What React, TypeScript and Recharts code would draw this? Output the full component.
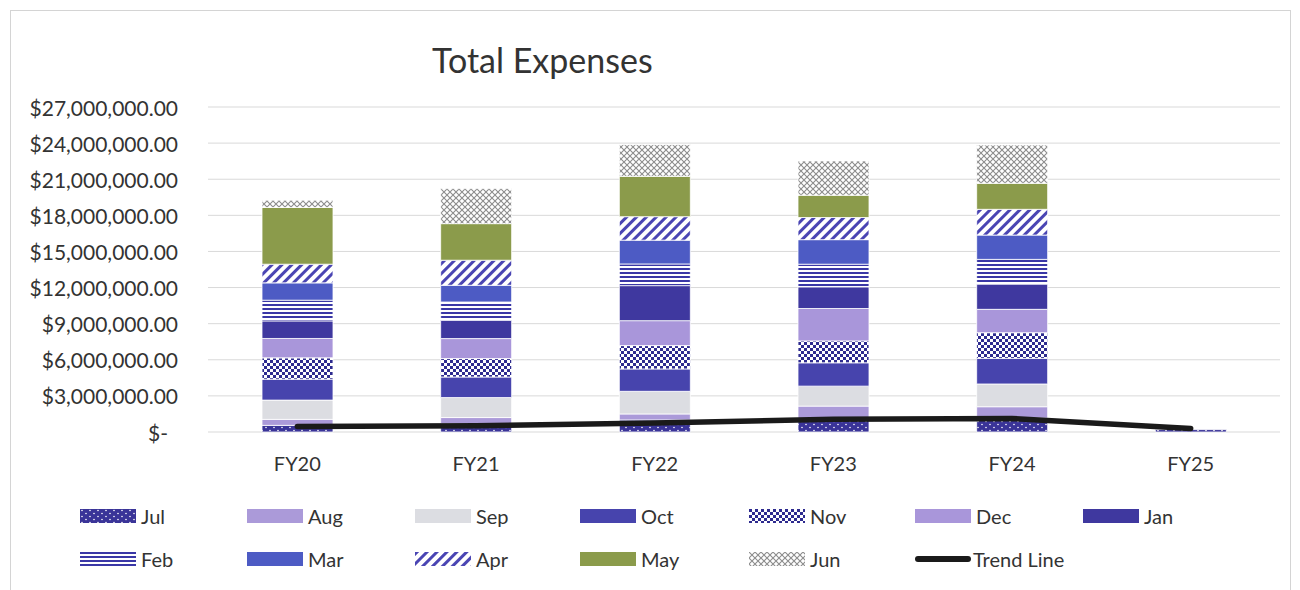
import { ComposedChart, Bar, Line, XAxis, YAxis, CartesianGrid } from "recharts";

// fiscal years on the x axis
const years = ["FY20", "FY21", "FY22", "FY23", "FY24", "FY25"];

// monthly expenses per fiscal year
const jul = [550000, 700000, 1000000, 1100000, 1150000, 200000];
const aug = [500000, 500000, 500000, 1050000, 950000, null];
const sep = [1600000, 1660000, 1880000, 1660000, 1890000, null];
const oct = [1740000, 1710000, 1860000, 1940000, 2130000, null];
const nov = [1770000, 1530000, 1940000, 1820000, 2130000, null];
const dec = [1610000, 1660000, 2070000, 2690000, 1940000, null];
const jan = [1460000, 1520000, 2910000, 1800000, 2100000, null];
const feb = [1720000, 1520000, 1800000, 1880000, 2050000, null];
const mar = [1440000, 1390000, 1980000, 2040000, 2020000, null];
const apr = [1550000, 2080000, 1950000, 1840000, 2140000, null];
const may = [4710000, 3040000, 3350000, 1850000, 2160000, null];
const jun = [610000, 2910000, 2630000, 2850000, 3180000, null];
const trend = [450000, 520000, 750000, 1050000, 1120000, 300000];

const yTicks = [0, 3000000, 6000000, 9000000, 12000000, 15000000, 18000000, 21000000, 24000000, 27000000];

const months = [
  { key: "Jul", values: jul, fill: "url(#pat-jul)" },
  { key: "Aug", values: aug, fill: "#ab9ad9" },
  { key: "Sep", values: sep, fill: "#dcdde2" },
  { key: "Oct", values: oct, fill: "#4744ad" },
  { key: "Nov", values: nov, fill: "url(#pat-nov)" },
  { key: "Dec", values: dec, fill: "#a996da" },
  { key: "Jan", values: jan, fill: "#3f389f" },
  { key: "Feb", values: feb, fill: "url(#pat-feb)" },
  { key: "Mar", values: mar, fill: "#4d5bc4" },
  { key: "Apr", values: apr, fill: "url(#pat-apr)" },
  { key: "May", values: may, fill: "#8b9b4b" },
  { key: "Jun", values: jun, fill: "url(#pat-jun)" },
];

const data = years.map((year, i) => {
  const row: Record<string, any> = { year, Trend: trend[i] };
  months.forEach((m) => {
    row[m.key] = m.values[i];
  });
  return row;
});

const FONT = "Lato, 'Open Sans', sans-serif";
const TEXT = "#333";

const money = (v: number) =>
  "$" + v.toLocaleString("en-US", { minimumFractionDigits: 2, maximumFractionDigits: 2 });

function YTick({ x, y, payload }: any) {
  const zero = payload.value === 0;
  return (
    <text
      x={zero ? x - 32 : x - 22}
      y={y}
      textAnchor="end"
      dominantBaseline="central"
      fontSize={21}
      fontFamily={FONT}
      fill={TEXT}
    >
      {zero ? "$-" : money(payload.value)}
    </text>
  );
}

function XTick({ x, y, payload }: any) {
  return (
    <text x={x} y={y + 23} textAnchor="middle" dominantBaseline="central" fontSize={20} fontFamily={FONT} fill={TEXT}>
      {payload.value}
    </text>
  );
}

function Swatch({ fill, line }: { fill?: string; line?: boolean }) {
  return (
    <svg width={56} height={14} style={{ display: "block" }}>
      {line ? (
        <line x1={3} y1={7} x2={53} y2={7} stroke="#1a1a1a" strokeWidth={6} strokeLinecap="round" />
      ) : (
        <rect x={0} y={0} width={56} height={14} fill={fill} />
      )}
    </svg>
  );
}

const legendCols = [80, 247, 415, 580, 749, 915, 1083];

export default function App() {
  const legendItems = [
    ...months.map((m) => ({ label: m.key, fill: m.fill, line: false })),
    { label: "Trend Line", fill: "", line: true },
  ];

  return (
    <div style={{ position: "absolute", left: 0, top: 0, width: 1300, height: 590, background: "#fff", overflow: "hidden" }}>
      <div
        style={{
          position: "absolute",
          left: 10,
          top: 10,
          width: 1279,
          height: 600,
          border: "1px solid #d4d4d4",
        }}
      />
      <div
        style={{
          position: "absolute",
          left: 432,
          top: 39,
          fontFamily: FONT,
          fontSize: 34,
          color: TEXT,
          lineHeight: "42px",
        }}
      >
        Total Expenses
      </div>
      <div style={{ position: "absolute", left: 0, top: 0 }}>
        <ComposedChart width={1300} height={590} data={data} margin={{ top: 107, right: 20, bottom: 118, left: 0 }}>
          <defs>
            <pattern id="pat-jul" width={8} height={6} patternUnits="userSpaceOnUse">
              <rect width={8} height={6} fill="#3a3498" />
              <circle cx={2} cy={1.5} r={0.8} fill="#fff" />
              <circle cx={6} cy={4.5} r={0.8} fill="#fff" />
            </pattern>
            <pattern id="pat-nov" width={6} height={6} patternUnits="userSpaceOnUse">
              <rect width={6} height={6} fill="#fff" />
              <rect x={0} y={0} width={3} height={3} fill="#2e2b8f" />
              <rect x={3} y={3} width={3} height={3} fill="#2e2b8f" />
            </pattern>
            <pattern id="pat-feb" width={4} height={4} patternUnits="userSpaceOnUse">
              <rect width={4} height={4} fill="#fff" />
              <rect x={0} y={0} width={4} height={2} fill="#3a37a6" />
            </pattern>
            <pattern id="pat-apr" width={7} height={7} patternUnits="userSpaceOnUse" patternTransform="rotate(45)">
              <rect width={7} height={7} fill="#fff" />
              <rect x={0} y={0} width={3} height={7} fill="#4a45b3" />
            </pattern>
            <pattern id="pat-jun" width={6} height={6} patternUnits="userSpaceOnUse">
              <rect width={6} height={6} fill="#fff" />
              <path d="M0,0 L6,6 M6,0 L0,6" stroke="#8c8c8c" strokeWidth={1.1} />
            </pattern>
          </defs>
          <CartesianGrid vertical={false} stroke="#d9d9d9" />
          <XAxis dataKey="year" axisLine={false} tickLine={false} height={40} tick={<XTick />} interval={0} />
          <YAxis
            width={208}
            domain={[0, 27000000]}
            ticks={yTicks}
            axisLine={false}
            tickLine={false}
            tick={<YTick />}
            interval={0}
          />
          {months.map((m) => (
            <Bar
              key={m.key}
              dataKey={m.key}
              stackId="fy"
              fill={m.fill}
              stroke="#fff"
              strokeWidth={0.8}
              barSize={71}
              isAnimationActive={false}
            />
          ))}
          <Line
            dataKey="Trend"
            type="linear"
            stroke="#1a1a1a"
            strokeWidth={5.5}
            strokeLinecap="round"
            dot={false}
            activeDot={false}
            isAnimationActive={false}
          />
        </ComposedChart>
      </div>
      {legendItems.map((item, i) => {
        const row = i < 7 ? 0 : 1;
        const col = i < 7 ? i : i - 7;
        return (
          <div
            key={item.label}
            style={{
              position: "absolute",
              left: legendCols[col],
              top: row === 0 ? 503 : 546,
              height: 26,
              display: "flex",
              alignItems: "center",
              gap: item.line ? 2 : 5,
              fontFamily: FONT,
              fontSize: 20,
              color: TEXT,
            }}
          >
            <Swatch fill={item.fill} line={item.line} />
            <span>{item.label}</span>
          </div>
        );
      })}
    </div>
  );
}
